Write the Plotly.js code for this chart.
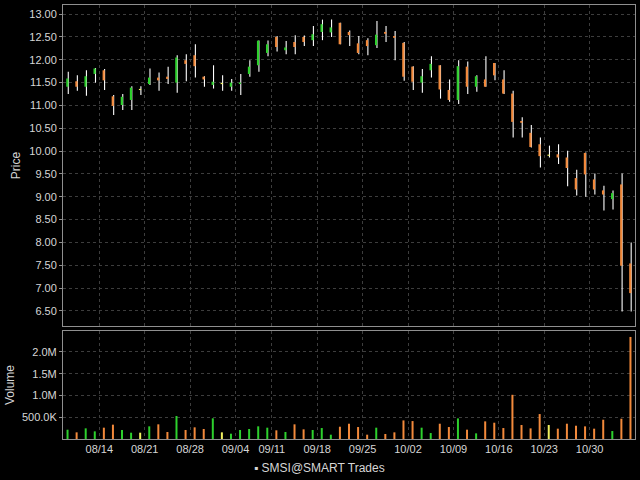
<!DOCTYPE html>
<html><head><meta charset="utf-8">
<script src="https://cdn.plot.ly/plotly-3.0.1.min.js"></script>
<style>html,body{margin:0;padding:0;background:#000;}#chart{width:640px;height:480px;}</style>
</head><body><div id="chart"></div>
<script>
const dates = ['08/08','08/09','08/10','08/11','08/14','08/15','08/16','08/17','08/18','08/21','08/22','08/23','08/24','08/25','08/28','08/29','08/30','08/31','09/01','09/05','09/06','09/07','09/08','09/11','09/12','09/13','09/14','09/15','09/18','09/19','09/20','09/21','09/22','09/25','09/26','09/27','09/28','09/29','10/02','10/03','10/04','10/05','10/06','10/09','10/10','10/11','10/12','10/13','10/16','10/17','10/18','10/19','10/20','10/23','10/24','10/25','10/26','10/27','10/30','10/31','11/01','11/02','11/03'];
const open  = [11.41,11.53,11.41,11.69,11.77,11.20,11.01,11.12,11.35,11.47,11.61,11.63,11.50,11.99,12.10,11.63,11.45,11.48,11.41,11.47,11.69,11.88,12.15,12.50,12.21,12.39,12.50,12.43,12.61,12.60,12.81,12.61,12.36,12.43,12.32,12.61,12.52,12.37,11.85,11.50,11.77,11.88,11.34,11.12,11.85,11.41,11.57,11.93,11.57,11.26,10.66,10.40,10.15,9.91,9.93,9.86,9.41,9.96,9.38,9.14,8.95,9.27,7.54];
const high  = [11.74,11.66,11.77,11.82,11.80,11.23,11.25,11.42,11.42,11.81,11.72,11.85,12.10,12.12,12.34,11.64,11.88,11.66,11.58,11.69,11.99,12.42,12.42,12.52,12.41,12.54,12.53,12.74,12.88,12.88,12.81,12.64,12.52,12.47,12.85,12.74,12.63,12.39,11.86,11.80,12.08,11.88,11.57,11.99,11.96,11.66,12.08,11.93,11.77,11.32,10.74,10.57,10.30,10.12,10.15,10.01,9.59,9.97,9.51,9.24,9.14,9.51,8.00];
const low   = [11.25,11.32,11.21,11.50,11.34,10.79,10.90,10.90,11.23,11.45,11.32,11.47,11.28,11.53,11.61,11.41,11.37,11.32,11.32,11.23,11.63,11.74,12.08,12.18,12.12,12.12,12.30,12.30,12.43,12.50,12.34,12.30,12.12,12.10,12.26,12.39,11.99,11.54,11.34,11.28,11.61,11.15,11.08,11.03,11.25,11.30,11.41,11.55,11.25,10.30,10.30,10.08,9.64,9.86,9.72,9.23,9.03,9.00,9.05,8.70,8.72,6.49,6.49];
const close = [11.59,11.41,11.64,11.81,11.55,10.99,11.19,11.39,11.35,11.61,11.55,11.58,12.05,11.91,11.86,11.57,11.52,11.48,11.50,11.50,11.85,12.42,12.34,12.28,12.27,12.28,12.39,12.56,12.78,12.71,12.34,12.54,12.15,12.30,12.55,12.57,12.48,11.63,11.52,11.64,11.91,11.35,11.12,11.86,11.41,11.64,11.41,11.66,11.26,10.64,10.62,10.09,9.89,9.91,9.86,9.63,9.16,9.49,9.16,9.05,9.08,7.49,6.89];
const volume = [214000,153000,245000,176000,260000,329000,207000,145000,145000,291000,337000,161000,528000,207000,268000,230000,475000,153000,122000,207000,230000,291000,260000,199000,161000,337000,222000,207000,252000,99000,282000,351000,275000,99000,260000,115000,153000,427000,412000,260000,137000,351000,275000,473000,214000,130000,405000,374000,252000,1015000,321000,244000,573000,321000,237000,351000,305000,290000,237000,443000,183000,466000,2344000];
const tickDays = ['08/14','08/21','08/28','09/05','09/11','09/18','09/25','10/02','10/09','10/16','10/23','10/30'];
const tickText = ['08/14','08/21','08/28','09/04','09/11','09/18','09/25','10/02','10/09','10/16','10/23','10/30'];
const volTickVals = [500000,1000000,1500000,2000000];
const volTickText = ['500.0K','1.0M','1.5M','2.0M'];
const seriesName = 'SMSI@SMART Trades';

const UP = '#2ed12e', DOWN = '#f28a3c', FLAT = '#f0f060';
const idx = dates.map((d, i) => i);
const colors = close.map((c, i) => c > open[i] ? UP : (c < open[i] ? DOWN : FLAT));
const MINB = 0.025;
const bodyLen = open.map((o, i) => Math.max(Math.abs(close[i] - o), MINB));
const bodyBase = open.map((o, i) => Math.min(o, close[i]) - (bodyLen[i] - Math.abs(close[i] - o)) / 2);
const wickLen = high.map((h, i) => h - low[i]);
const tickVals = tickDays.map(d => dates.indexOf(d) - 0.5);

const FONT = 'Liberation Sans, Arial, sans-serif';
const TXT = '#d6d6d6';
const GRID = '#3d3d3d';
const FRAME = '#8f8f8f';

const traces = [
  {type:'bar', x:idx, base:low, y:wickLen, width:0.12, offset:0.02,
   marker:{color:'#ffffff', line:{width:0.02, color:'#ffffff'}}, xaxis:'x2', yaxis:'y', hoverinfo:'skip', showlegend:false},
  {type:'bar', x:idx, base:bodyBase, y:bodyLen, width:0.24, offset:-0.14,
   marker:{color:colors, line:{width:0.02, color:colors}}, xaxis:'x2', yaxis:'y', hoverinfo:'skip', showlegend:false},
  {type:'bar', x:idx, y:volume, width:0.22,
   marker:{color:colors, line:{width:0.02, color:colors}}, xaxis:'x', yaxis:'y2', hoverinfo:'skip', showlegend:false}
];

const axBase = {showgrid:true, gridcolor:GRID, griddash:'dot', gridwidth:1, zeroline:false,
  showline:true, mirror:true, linecolor:FRAME, linewidth:1,
  tickfont:{family:FONT, size:11, color:TXT}};

const layout = {
  width:640, height:480,
  margin:{l:63, r:5, t:5, b:41},
  paper_bgcolor:'#000', plot_bgcolor:'#000',
  barmode:'overlay', showlegend:false,
  font:{family:FONT, size:11, color:TXT},
  xaxis: Object.assign({}, axBase, {domain:[0,1], anchor:'y2', range:[-0.5, 62.5],
    tickmode:'array', tickvals:tickVals, ticktext:tickText, ticks:''}),
  xaxis2: Object.assign({}, axBase, {domain:[0,1], anchor:'y', matches:'x', range:[-0.5, 62.5],
    tickmode:'array', tickvals:tickVals, ticktext:tickText, showticklabels:false, ticks:''}),
  yaxis: Object.assign({}, axBase, {domain:[0.2604, 1], anchor:'x2', range:[6.17, 13.2],
    tick0:0, dtick:0.5, tickformat:'.2f', ticks:'outside', ticklen:3, tickcolor:FRAME,
    title:{text:'Price', font:{family:FONT, size:12, color:TXT}, standoff:6}}),
  yaxis2: Object.assign({}, axBase, {domain:[0, 0.2488], anchor:'x', range:[0, 2.48e6],
    tickmode:'array', tickvals:volTickVals, ticktext:volTickText, ticks:'outside', ticklen:3, tickcolor:FRAME,
    title:{text:'Volume', font:{family:FONT, size:12, color:TXT}, standoff:4}}),
  annotations:[{xref:'paper', yref:'paper', x:0.449, y:-0.066, xanchor:'center', yanchor:'middle',
    text:'▪ ' + seriesName, showarrow:false, font:{family:FONT, size:12, color:TXT}}]
};

Plotly.newPlot('chart', traces, layout, {displayModeBar:false});
</script>
</body></html>
